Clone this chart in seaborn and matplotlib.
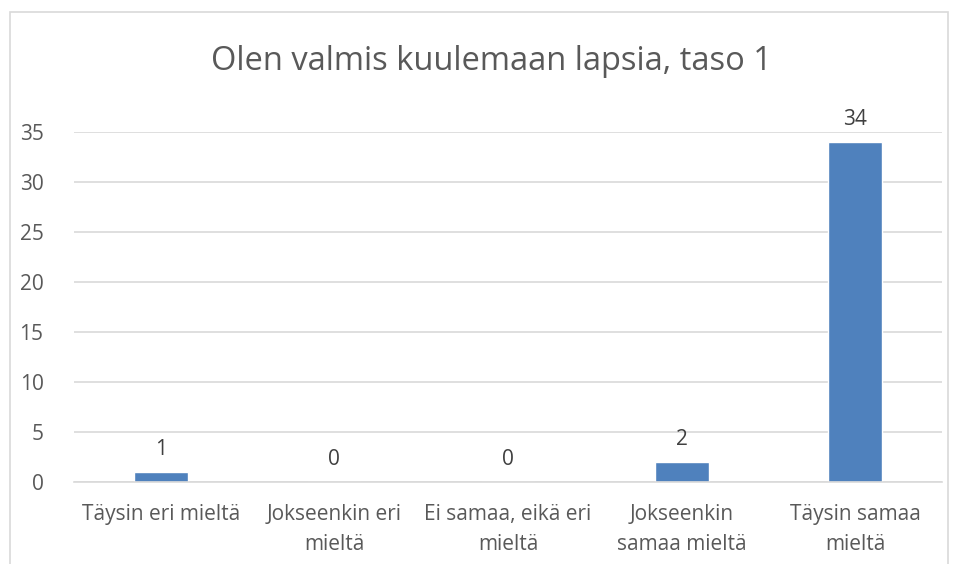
import matplotlib.pyplot as plt
import seaborn as sns
import pandas as pd
from matplotlib.patches import Rectangle

# data
categories = ['Täysin eri mieltä', 'Jokseenkin eri\nmieltä', 'Ei samaa, eikä eri\nmieltä',
              'Jokseenkin\nsamaa mieltä', 'Täysin samaa\nmieltä']
counts = [1, 0, 0, 2, 34]
title = 'Olen valmis kuulemaan lapsia, taso 1'

df = pd.DataFrame({'vastaus': categories, 'lkm': counts})

sns.set_theme(style='white')
plt.rcParams['font.family'] = ['Open Sans', 'DejaVu Sans']

fig = plt.figure(figsize=(9.58, 5.64), dpi=100)
# outer chart border like in Excel
fig.patches.append(Rectangle((10 / 958, -0.01), 938 / 958, 1 - 12 / 564 + 0.01,
                             transform=fig.transFigure, fill=False,
                             edgecolor='#D9D9D9', linewidth=1.2))

ax = fig.add_axes([74 / 958, 82 / 564, 868 / 958, 350 / 564])
sns.barplot(data=df, x='vastaus', y='lkm', color='#4F81BD', width=0.31,
            saturation=1, ax=ax)

ax.set_ylim(0, 35)
ax.set_yticks(range(0, 36, 5))
ax.yaxis.grid(True, color='#D9D9D9', linewidth=1.2)
ax.set_axisbelow(True)
for s in ['top', 'right', 'left']:
    ax.spines[s].set_visible(False)
ax.spines['bottom'].set_color('#D9D9D9')
ax.spines['bottom'].set_linewidth(1.2)
ax.tick_params(axis='both', length=0, labelsize=15, colors='#595959')
ax.tick_params(axis='y', pad=22)
ax.tick_params(axis='x', pad=16)
for lbl in ax.get_xticklabels():
    lbl.set_linespacing(1.55)
ax.set_xlabel('')
ax.set_ylabel('')

for i, v in enumerate(counts):
    ax.text(i, v + 1.2, str(v), ha='center', va='bottom', fontsize=15, color='#404040')

fig.text(491 / 958, 1 - 61 / 564, title, ha='center', va='center',
         fontsize=23.5, color='#595959')

fig.savefig('out.png', dpi=100, facecolor='white')
